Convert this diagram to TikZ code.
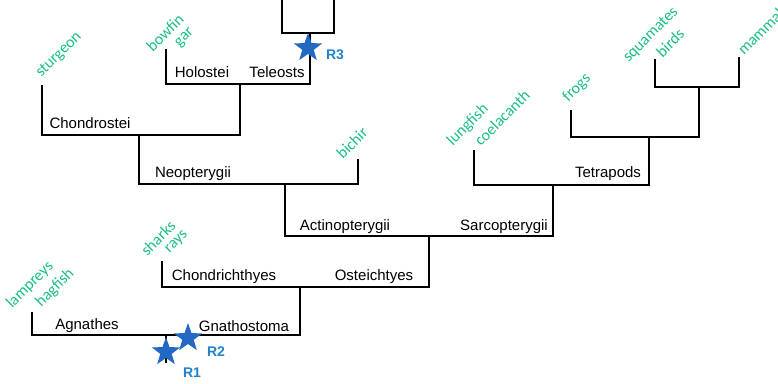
\documentclass[tikz,border=0pt]{standalone}
\usepackage{fontspec}
\setmainfont{Liberation Sans}
\newfontfamily\greenfont{Carlito}
\usetikzlibrary{shapes.geometric}
\definecolor{taxgreen}{RGB}{25,190,130}
\definecolor{starblue}{RGB}{35,105,195}
\definecolor{rblue}{RGB}{30,130,205}
\tikzset{
  branch/.style={line width=1.8pt, black},
  clade/.style={font=\fontsize{15}{17}\selectfont, inner sep=0pt},
  taxon/.style={font=\greenfont\fontsize{16}{18}\selectfont, text=taxgreen, rotate=45, inner sep=0pt},
  rstar/.style={star, star points=5, star point ratio=2.5, fill=starblue, draw=none, minimum size=30pt, inner sep=0pt},
  rlabel/.style={font=\bfseries\fontsize{14}{16}\selectfont, text=rblue, inner sep=0pt}
}
\begin{document}
\begin{tikzpicture}[x=1pt,y=-1pt]
\useasboundingbox (0,0) rectangle (778,383);
% tips and junctions
\coordinate (ta) at (282,-5);
\coordinate (tb) at (334,-5);
\coordinate (jT) at (310,33);
\coordinate (bow) at (166,49);
\coordinate (jN) at (240,84);
\coordinate (stu) at (42,85);
\coordinate (jA1) at (139,135);
\coordinate (bic) at (358,159);
\coordinate (jAct) at (285,184);
\coordinate (bir) at (655,59);
\coordinate (mam) at (739,57);
\coordinate (jAm) at (699,87);
\coordinate (fro) at (571,110);
\coordinate (jTet) at (649,137);
\coordinate (lun) at (474,150);
\coordinate (jS) at (553,185);
\coordinate (jO) at (429,236);
\coordinate (sha) at (162,261);
\coordinate (jG) at (300,287);
\coordinate (lam) at (32,312);
\coordinate (jR) at (166,335);
\coordinate (root) at (166,363);
% branches
\draw[branch] (ta) |- (jT) -| (tb);
\draw[branch] (bow) |- (jN) -| (jT);
\draw[branch] (stu) |- (jA1) -| (jN);
\draw[branch] (jA1) |- (jAct) -| (bic);
\draw[branch] (bir) |- (jAm) -| (mam);
\draw[branch] (fro) |- (jTet) -| (jAm);
\draw[branch] (lun) |- (jS) -| (jTet);
\draw[branch] (jAct) |- (jO) -| (jS);
\draw[branch] (sha) |- (jG) -| (jO);
\draw[branch] (lam) |- (jR) -| (jG);
\draw[branch, line width=1.2pt] (jR) -- (root);
% clade labels
\node[clade] (holostei) at (202,72) {Holostei};
\node[clade] (teleosts) at (277,72) {Teleosts};
\node[clade] (chondrostei) at (90,123) {Chondrostei};
\node[clade] (neopterygii) at (193,174) {Neopterygii};
\node[clade] (actino) at (345,227) {Actinopterygii};
\node[clade] (sarco) at (504,227) {Sarcopterygii};
\node[clade] (tetrapods) at (608,174) {Tetrapods};
\node[clade] (chondrich) at (224,277) {Chondrichthyes};
\node[clade] (osteich) at (374,277) {Osteichtyes};
\node[clade] (agnathes) at (87,326) {Agnathes};
\node[clade] (gnatho) at (244,326) {Gnathostoma};
% taxa
\node[taxon] (sturgeon) at (59,55) {sturgeon};
\node[taxon] (bowfin) at (165,33) {bowfin};
\node[taxon] (gar) at (185,38) {gar};
\node[taxon] (bichir) at (352,143) {bichir};
\node[taxon] (lungfish) at (468,125) {lungfish};
\node[taxon] (coelacanth) at (502,118) {coelacanth};
\node[taxon] (frogs) at (577,88) {frogs};
\node[taxon] (squamates) at (651,35) {squamates};
\node[taxon] (birds) at (670,43) {birds};
\node[taxon, anchor=west] (mammals) at (740,52) {mammals};
\node[taxon] (sharks) at (158,238) {sharks};
\node[taxon] (rays) at (177,242) {rays};
\node[taxon] (lampreys) at (30,285) {lampreys};
\node[taxon] (hagfish) at (55,288) {hagfish};
% events
\node[rstar] (star3) at (308,48) {};
\node[rlabel] (r3) at (335,55) {R3};
\node[rstar] (star1) at (166,352) {};
\node[rlabel] (r1) at (192,373) {R1};
\node[rstar] (star2) at (188,338) {};
\node[rlabel] (r2) at (216,352) {R2};
\end{tikzpicture}
\end{document}
